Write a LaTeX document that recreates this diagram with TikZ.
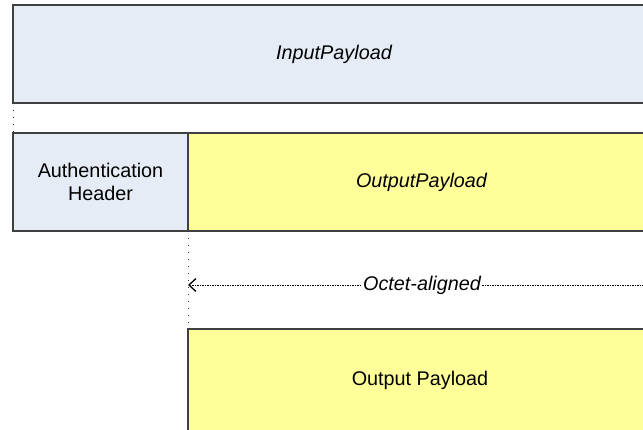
\documentclass[tikz,border=0pt]{standalone}
\usepackage{fontspec}
\setmainfont{Liberation Sans}
\usetikzlibrary{positioning,arrows.meta}
\definecolor{hdrblue}{RGB}{230,236,246}
\definecolor{payyellow}{RGB}{255,255,153}
\tikzset{field/.style={
  rectangle,
  draw=black!75, line width=1.2pt,
  inner sep=0pt, outer sep=0pt,
  font=\fontsize{19.8}{23}\selectfont,
  align=center
}}
\tikzset{hdr/.style={field, fill=hdrblue}}
\tikzset{pay/.style={field, fill=payyellow}}
\tikzset{guide/.style={black!80, line width=1pt, dash pattern=on 1.2pt off 5.8pt}}
\tikzset{span/.style={black, line width=0.9pt, dash pattern=on 1.2pt off 1.3pt}}

\begin{document}
\begin{tikzpicture}[x=1pt,y=-1pt]
    \useasboundingbox (0,0) rectangle (643,429);
    \clip (0,0) rectangle (643,429);
    \node (inpay) [hdr,anchor=north west,minimum width=642pt,minimum height=98pt] at (13,5) {\itshape InputPayload};
    \node (auth) [hdr,anchor=north west,minimum width=175pt,minimum height=98pt] at (13,133) {Authentication\\Header};
    \node (outpay) [pay,anchor=west,minimum width=467pt,minimum height=98pt] at (auth.east) {\itshape OutputPayload};
    \node (outlast) [pay,anchor=north west,minimum width=467pt,minimum height=120pt] at (188,329) {};
    \node (outtext) at (420,380) [font=\fontsize{19.8}{23}\selectfont] {Output Payload};
    \draw [guide] (inpay.south west) -- (auth.north west);
    \draw [guide] (outpay.south west) -- (outlast.north west);
    \coordinate (far) at (656,285);
    \draw [span,-{Straight Barb[length=7pt,width=13pt,line width=1.3pt]}] (far) -- node [fill=white,inner sep=1pt,font=\fontsize{19.8}{23}\selectfont\itshape] (octet) {Octet-aligned} (outpay.south west |- far);
  \end{tikzpicture}
\end{document}
